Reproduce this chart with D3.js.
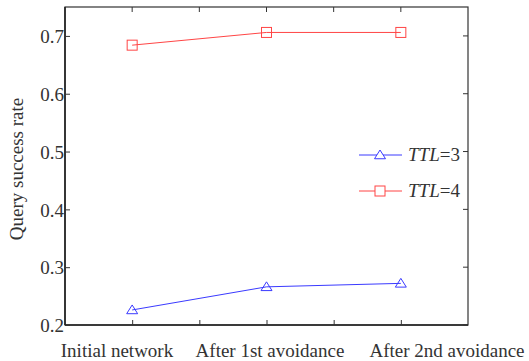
<!DOCTYPE html>
<html><head><meta charset="utf-8">
<script src="https://cdn.jsdelivr.net/npm/d3@7"></script>
<style>body{margin:0;background:#fff}svg{display:block}svg text{font-family:"Liberation Serif","Times New Roman",serif !important}</style>
</head><body>
<svg id="c" width="529" height="361"></svg>
<script>
const categories = ["Initial network", "After 1st avoidance", "After 2nd avoidance"];
const categoryPos = [1, 3, 5];
const ttl3 = [0.226, 0.266, 0.272];
const ttl4 = [0.684, 0.706, 0.706];
const yTicks = [0.2, 0.3, 0.4, 0.5, 0.6, 0.7];
const xTicks = [1, 2, 3, 4, 5];
const seriesNames = ["3", "4"];

const svg = d3.select("#c");
const L = 65, R = 468, T = 7, B = 325;
const x = d3.scaleLinear().domain([0, 6]).range([L, R]);
const y = d3.scaleLinear().domain([0.2, 0.75]).range([B, T]);
const serif = '"Liberation Serif","Times New Roman",serif';

// box
svg.append("rect").attr("x", L).attr("y", T).attr("width", R - L).attr("height", B - T)
  .attr("fill", "none").attr("stroke", "#333").attr("stroke-width", 1.2);
svg.append("line").attr("x1", L).attr("x2", L).attr("y1", T).attr("y2", B).attr("stroke", "#222").attr("stroke-width", 1.6);
svg.append("line").attr("x1", L).attr("x2", R).attr("y1", B).attr("y2", B).attr("stroke", "#222").attr("stroke-width", 1.6);

const tl = 5;
// y axis
const ya = svg.append("g").attr("transform", `translate(${L},0)`)
  .call(d3.axisLeft(y).tickValues(yTicks).tickFormat(d3.format(".1f")).tickSizeInner(-tl).tickSizeOuter(0));
ya.attr("font-family", serif).attr("font-size", 19);
ya.select(".domain").remove();
ya.selectAll("line").attr("stroke", "#333");
ya.selectAll("text").attr("x", -1).attr("dy", "0.35em").attr("fill", "#333").style("font-family", serif);
// right ticks
svg.append("g").selectAll("line").data(yTicks).join("line")
  .attr("x1", R).attr("x2", R - tl).attr("y1", d => y(d)).attr("y2", d => y(d)).attr("stroke", "#333");
// x ticks bottom and top
const xa = svg.append("g").attr("transform", `translate(0,${B})`)
  .call(d3.axisBottom(x).tickValues(xTicks).tickFormat("").tickSizeInner(-tl).tickSizeOuter(0));
xa.select(".domain").remove();
xa.selectAll("line").attr("stroke", "#333");
svg.append("g").selectAll("line").data(xTicks).join("line")
  .attr("x1", d => x(d)).attr("x2", d => x(d)).attr("y1", T).attr("y2", T + tl).attr("stroke", "#333");

// category labels
const labelX = [117, 270, 447];
svg.append("g").selectAll("text").data(categories).join("text")
  .attr("x", (d, i) => labelX[i]).attr("y", 357).attr("text-anchor", "middle")
  .attr("font-size", 19).attr("fill", "#333").text(d => d);

// y label
svg.append("text").attr("transform", `translate(23,169) rotate(-90)`).attr("text-anchor", "middle")
  .attr("font-size", 19).attr("fill", "#333").text("Query success rate");

const line = d3.line().x((d, i) => x(categoryPos[i])).y(d => y(d));
const blue = "#3a3aff", red = "#ff4545";
svg.append("path").datum(ttl3).attr("d", line).attr("fill", "none").attr("stroke", blue).attr("stroke-width", 1);
svg.append("path").datum(ttl4).attr("d", line).attr("fill", "none").attr("stroke", red).attr("stroke-width", 1);

const tri = (cx, cy, s) => `M${cx},${cy - s}L${cx + s * 1.1},${cy + s * 0.75}L${cx - s * 1.1},${cy + s * 0.75}Z`;
svg.append("g").selectAll("path").data(ttl3).join("path")
  .attr("d", (d, i) => tri(x(categoryPos[i]), y(d), 5)).attr("fill", "none").attr("stroke", blue).attr("stroke-width", 1);
svg.append("g").selectAll("rect").data(ttl4).join("rect")
  .attr("x", (d, i) => x(categoryPos[i]) - 5).attr("y", d => y(d) - 5).attr("width", 10).attr("height", 10)
  .attr("fill", "none").attr("stroke", red).attr("stroke-width", 1);

// legend
const leg = [{c: blue, y: 155, m: "tri", n: seriesNames[0]}, {c: red, y: 191, m: "sq", n: seriesNames[1]}];
leg.forEach(l => {
  svg.append("line").attr("x1", 359).attr("x2", 402).attr("y1", l.y).attr("y2", l.y).attr("stroke", l.c).attr("stroke-width", 1);
  if (l.m === "tri") svg.append("path").attr("d", tri(380, l.y, 5)).attr("fill", "#fff").attr("stroke", l.c);
  else svg.append("rect").attr("x", 375).attr("y", l.y - 5).attr("width", 10).attr("height", 10).attr("fill", "#fff").attr("stroke", l.c);
  const t = svg.append("text").attr("x", 408).attr("y", l.y + 6).attr("font-size", 19).attr("fill", "#333");
  t.append("tspan").attr("font-style", "italic").text("TTL");
  t.append("tspan").text("=" + l.n);
});
</script>
</body></html>
